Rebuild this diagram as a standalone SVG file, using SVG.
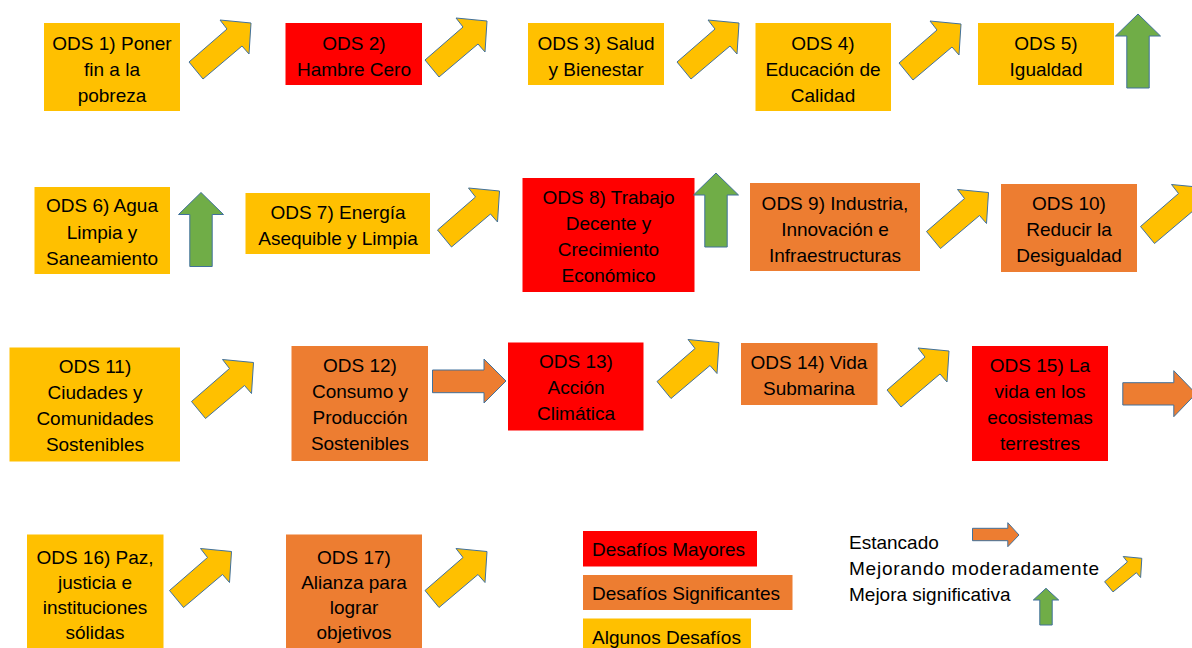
<svg xmlns="http://www.w3.org/2000/svg" xmlns:xlink="http://www.w3.org/1999/xlink" width="1192" height="648" viewBox="0 0 1192 648">
<style>
  .y{fill:#FFC000}
  .r{fill:#FF0000}
  .o{fill:#ED7D31}
  .t{font-family:"Liberation Sans",Arial,sans-serif;font-size:19px;fill:#000;text-anchor:middle}
  .l{font-family:"Liberation Sans",Arial,sans-serif;font-size:19px;fill:#000}
  .ay{fill:#FFC000;stroke:#41719C;stroke-width:1;stroke-linejoin:miter}
  .ag{fill:#70AD47;stroke:#41719C;stroke-width:1}
  .ao{fill:#ED7D31;stroke:#41719C;stroke-width:1}
</style>
<defs>
  <polygon id="diag" points="0,0 14,17 53,-16 60,-8 62,-39 31,-42 38,-33"/>
  <polygon id="up" points="0,0 22.5,22 11.2,22 11.2,74 -11.2,74 -11.2,22 -22.5,22"/>
</defs>
<rect width="1192" height="648" fill="#fff"/>

<g id="ods1"><rect class="y" x="44" y="23" width="136" height="88"/>
<text class="t"><tspan x="112" y="49.5">ODS 1) Poner</tspan><tspan x="112" y="75.5">fin a la</tspan><tspan x="112" y="101.5">pobreza</tspan></text></g>
<g id="ods2"><rect class="r" x="285.5" y="23" width="136.5" height="62"/>
<text class="t"><tspan x="354" y="49.5">ODS 2)</tspan><tspan x="354" y="75.5">Hambre Cero</tspan></text></g>
<g id="ods3"><rect class="y" x="528" y="23" width="136" height="62"/>
<text class="t"><tspan x="596" y="49.5">ODS 3) Salud</tspan><tspan x="596" y="75.5">y Bienestar</tspan></text></g>
<g id="ods4"><rect class="y" x="755.5" y="23" width="135.5" height="88"/>
<text class="t"><tspan x="823" y="49.5">ODS 4)</tspan><tspan x="823" y="75.5">Educación de</tspan><tspan x="823" y="101.5">Calidad</tspan></text></g>
<g id="ods5"><rect class="y" x="978" y="23" width="136" height="62"/>
<text class="t"><tspan x="1046" y="49.5">ODS 5)</tspan><tspan x="1046" y="75.5">Igualdad</tspan></text></g>

<g id="ods6"><rect class="y" x="34.5" y="187" width="135.5" height="87"/>
<text class="t"><tspan x="102" y="212">ODS 6) Agua</tspan><tspan x="102" y="238.5">Limpia y</tspan><tspan x="102" y="264.5">Saneamiento</tspan></text></g>
<g id="ods7"><rect class="y" x="245.5" y="193" width="184.5" height="61"/>
<text class="t"><tspan x="338" y="218.5">ODS 7) Energía</tspan><tspan x="338" y="245">Asequible y Limpia</tspan></text></g>
<g id="ods8"><rect class="r" x="522.5" y="178" width="172" height="114"/>
<text class="t"><tspan x="608.5" y="203.5">ODS 8) Trabajo</tspan><tspan x="608.5" y="229.5">Decente y</tspan><tspan x="608.5" y="255.5">Crecimiento</tspan><tspan x="608.5" y="281.5">Económico</tspan></text></g>
<g id="ods9"><rect class="o" x="750" y="183" width="170" height="88"/>
<text class="t"><tspan x="835" y="209.5">ODS 9) Industria,</tspan><tspan x="835" y="235.5">Innovación e</tspan><tspan x="835" y="261.5">Infraestructuras</tspan></text></g>
<g id="ods10"><rect class="o" x="1001" y="184" width="136" height="88"/>
<text class="t"><tspan x="1069" y="210">ODS 10)</tspan><tspan x="1069" y="236">Reducir la</tspan><tspan x="1069" y="262">Desigualdad</tspan></text></g>

<g id="ods11"><rect class="y" x="9.5" y="347.5" width="170.5" height="114"/>
<text class="t"><tspan x="95" y="372.5">ODS 11)</tspan><tspan x="95" y="398.5">Ciudades y</tspan><tspan x="95" y="425">Comunidades</tspan><tspan x="95" y="451">Sostenibles</tspan></text></g>
<g id="ods12"><rect class="o" x="291.5" y="346" width="136.5" height="115"/>
<text class="t"><tspan x="360" y="372">ODS 12)</tspan><tspan x="360" y="398">Consumo y</tspan><tspan x="360" y="424">Producción</tspan><tspan x="360" y="450">Sostenibles</tspan></text></g>
<g id="ods13"><rect class="r" x="508" y="342.5" width="135.5" height="88"/>
<text class="t"><tspan x="576" y="367.5">ODS 13)</tspan><tspan x="576" y="393.5">Acción</tspan><tspan x="576" y="419.5">Climática</tspan></text></g>
<g id="ods14"><rect class="o" x="741" y="343" width="136.5" height="62"/>
<text class="t"><tspan x="809" y="368.5">ODS 14) Vida</tspan><tspan x="809" y="395">Submarina</tspan></text></g>
<g id="ods15"><rect class="r" x="972" y="346" width="136" height="115"/>
<text class="t"><tspan x="1040" y="372">ODS 15) La</tspan><tspan x="1040" y="398">vida en los</tspan><tspan x="1040" y="424">ecosistemas</tspan><tspan x="1040" y="450">terrestres</tspan></text></g>

<g id="ods16"><rect class="y" x="27" y="534.5" width="136.5" height="130"/>
<text class="t"><tspan x="95" y="563.5">ODS 16) Paz,</tspan><tspan x="95" y="588.5">justicia e</tspan><tspan x="95" y="613.5">instituciones</tspan><tspan x="95" y="639">sólidas</tspan></text></g>
<g id="ods17"><rect class="o" x="286" y="534.5" width="136" height="130"/>
<text class="t"><tspan x="354" y="563.5">ODS 17)</tspan><tspan x="354" y="588.5">Alianza para</tspan><tspan x="354" y="613.5">lograr</tspan><tspan x="354" y="639">objetivos</tspan></text></g>

<g id="legend">
  <rect class="r" x="583" y="531" width="174" height="35.5"/>
  <text class="l" x="592" y="556">Desafíos Mayores</text>
  <rect class="o" x="583" y="575" width="209.5" height="35"/>
  <text class="l" x="592" y="600">Desafíos Significantes</text>
  <rect class="y" x="583" y="618.5" width="168" height="40"/>
  <text class="l" x="592" y="643.5">Algunos Desafíos</text>
  <text class="l" x="849" y="548.5">Estancado</text>
  <text class="l" x="849" y="575" textLength="250" lengthAdjust="spacing">Mejorando moderadamente</text>
  <text class="l" x="849" y="601">Mejora significativa</text>
  <polygon class="ao" points="972.5,528.3 1007.8,528.3 1007.8,522.7 1019,535 1007.8,546.7 1007.8,540.7 972.5,540.7"/>
  <polygon class="ay" points="1104.6,581.7 1113,591.9 1136.4,572.7 1140.6,577.5 1141.8,558.3 1123.2,556.5 1127.4,561.9"/>
  <polygon class="ag" points="1046,588.3 1058.7,600 1052.2,600 1052.2,625 1039.8,625 1039.8,600 1033.3,600"/>
</g>

<g id="connectors">
  <use xlink:href="#diag" class="ay" x="189" y="62"/>
  <use xlink:href="#diag" class="ay" x="425" y="60"/>
  <use xlink:href="#diag" class="ay" x="677" y="62"/>
  <use xlink:href="#diag" class="ay" x="899" y="63"/>
  <use xlink:href="#up" class="ag" x="1138" y="14"/>
  <use xlink:href="#up" class="ag" x="201" y="192.5"/>
  <use xlink:href="#diag" class="ay" x="437.5" y="230"/>
  <use xlink:href="#up" class="ag" x="716" y="173"/>
  <use xlink:href="#diag" class="ay" x="926.5" y="231.5"/>
  <use xlink:href="#diag" class="ay" x="1140.5" y="226.5"/>
  <use xlink:href="#diag" class="ay" x="191.5" y="401.5"/>
  <polygon class="ao" points="432.5,370 484,370 484,359 506,381 484,403 484,392.7 432.5,392.7"/>
  <use xlink:href="#diag" class="ay" x="657" y="381.5"/>
  <use xlink:href="#diag" class="ay" x="887" y="390"/>
  <polygon class="ao" points="1122.8,382.7 1173.8,382.7 1173.8,370.7 1196,393.7 1173.8,416.7 1173.8,405 1122.8,405"/>
  <use xlink:href="#diag" class="ay" x="169.5" y="590.5"/>
  <use xlink:href="#diag" class="ay" x="425" y="590.5"/>
</g>
</svg>
